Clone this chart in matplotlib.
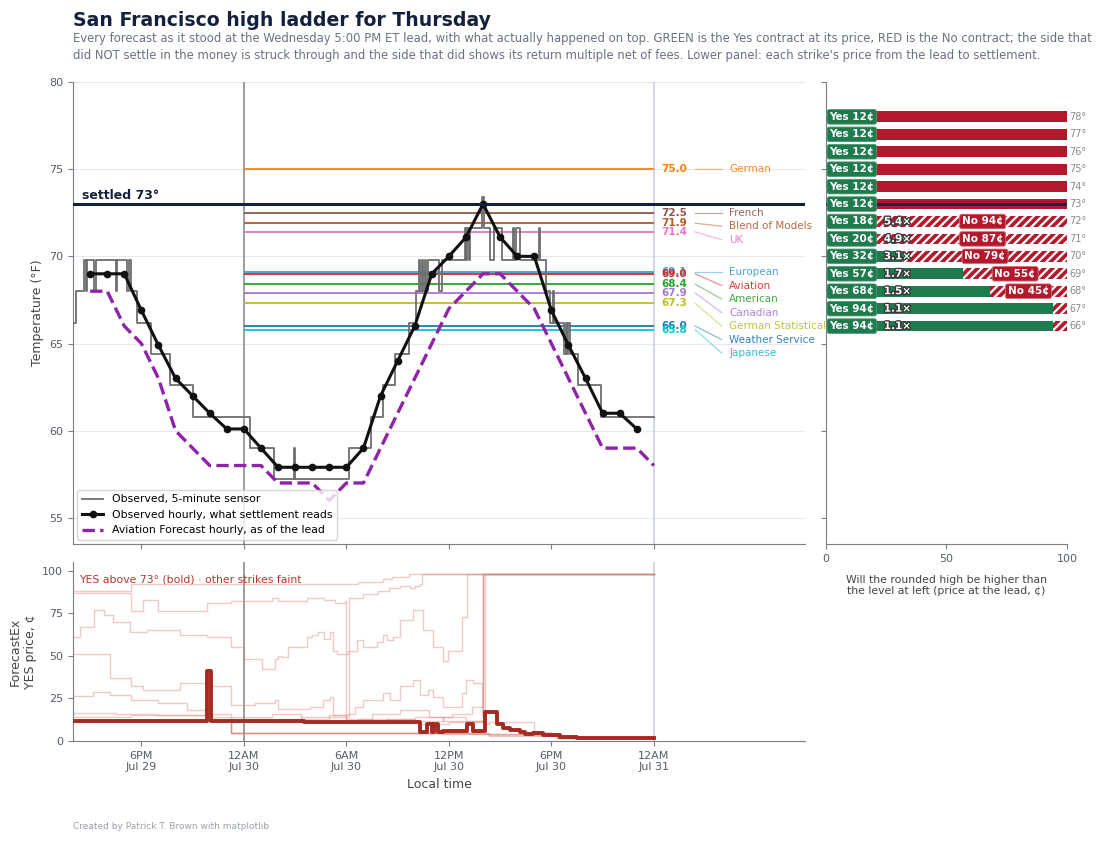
"""
San Francisco high ladder for Thursday: forecasts at the lead, observations,
and the ForecastEx strike ladder.
"""

import matplotlib

matplotlib.use("Agg")
import matplotlib.dates as mdates
import matplotlib.patheffects as pe
import matplotlib.pyplot as plt
import pandas as pd

plt.rcParams["font.family"] = ["DejaVu Sans"]
plt.rcParams["hatch.linewidth"] = 1.6

LEAD = pd.Timestamp("2026-07-29 14:00")
DAY_START = pd.Timestamp("2026-07-30 00:00")
DAY_END = pd.Timestamp("2026-07-31 00:00")
X_END = pd.Timestamp("2026-07-31 08:51")
SETTLED = 73

NAVY = "#14213d"
GREEN = "#1f7a4d"
RED = "#b3192c"
GREY_TXT = "#555c66"

# observed hourly (15:00 Jul 29 .. 23:00 Jul 30), deg F
obs_hourly = [69.0, 69.0, 69.0, 66.9, 64.9, 63.0, 62.0, 61.0, 60.1,
              60.1, 59.0, 57.9, 57.9, 57.9, 57.9, 57.9, 59.0, 62.0, 64.0,
              66.0, 69.0, 70.0, 71.1, 73.0, 71.1, 70.0, 70.0, 66.9, 64.9,
              63.0, 61.0, 61.0, 60.1]

# aviation forecast hourly (15:00 Jul 29 .. 00:00 Jul 31), deg F
aviation_hourly = [68, 68, 66, 65, 63, 60, 59, 58, 58,
                   58, 58, 57, 57, 57, 56, 57, 57, 59, 61, 63, 65, 67,
                   68, 69, 69, 68, 67, 65, 63, 61, 59, 59, 59, 58]

# 5-minute sensor: minutes after the lead where the reading changes, and value
obs5_min = [0, 10, 40, 45, 50, 75, 80, 150, 155, 190, 195, 205,
            225, 275, 340, 420, 620, 705, 775, 780, 970, 1045, 1090,
            1130, 1180, 1205, 1215, 1220, 1225, 1230, 1235, 1240, 1245,
            1285, 1295, 1375, 1380, 1385, 1390, 1395, 1435, 1445, 1465,
            1480, 1505, 1545, 1550, 1555, 1570, 1635, 1640, 1660, 1675,
            1685, 1690, 1725, 1730, 1735, 1740, 1745, 1775, 1855, 2040]
obs5_temp = [66.2, 68.0, 69.8, 68.0, 69.8, 68.0, 69.8, 68.0, 69.8, 68.0, 69.8, 68.0,
             66.2, 64.4, 62.6, 60.8, 59.0, 57.2, 59.0, 57.2, 59.0, 60.8, 62.6,
             64.4, 66.2, 68.0, 69.8, 68.0, 69.8, 68.0, 69.8, 68.0, 69.8,
             68.0, 69.8, 71.6, 69.8, 71.6, 69.8, 71.6, 73.4, 71.6, 69.8,
             71.6, 69.8, 71.6, 69.8, 71.6, 69.8, 71.6, 69.8, 68.0, 66.2,
             68.0, 66.2, 64.4, 66.2, 64.4, 66.2, 64.4, 62.6, 60.8, 60.8]

# model highs at the lead
models = ["German", "French", "Blend of Models", "UK", "European", "Aviation",
          "American", "Canadian", "German Statistical", "Weather Service", "Japanese"]
model_highs = [75.0, 72.5, 71.9, 71.4, 69.1, 69.0, 68.4, 67.9, 67.3, 66.0, 65.8]
model_colors = ["#ff7f0e", "#8c564b", "#b5582b", "#e377c2", "#3a9fd0", "#d62728",
                "#2ca02c", "#a678d0", "#bcbd22", "#1f77b4", "#17becf"]

# ladder at the lead
strikes = [66, 67, 68, 69, 70, 71, 72, 73, 74, 75, 76, 77, 78]
yes_prices = [94, 94, 68, 57, 32, 20, 18, 12, 12, 12, 12, 12, 12]
no_prices = [None, None, 45, 55, 79, 87, 94, None, None, None, None, None, None]
multiples = ["1.1×", "1.1×", "1.5×", "1.7×", "3.1×", "4.9×", "5.4×",
             None, None, None, None, None, None]

# YES price paths (minutes after lead, cents)
price_73 = [(0, 12), (470, 41), (485, 12), (810, 11), (1220, 5), (1242, 10), (1260, 5),
            (1268, 10), (1283, 5), (1300, 6), (1383, 10), (1406, 6), (1447, 17),
            (1490, 10), (1511, 7.5), (1535, 6.5), (1570, 5), (1587, 4), (1617, 4.5),
            (1652, 3.5), (1710, 2.5), (1769, 2), (2040, 2)]
price_66 = [(0, 88), (205, 92), (1000, 93), (1090, 95), (1120, 96), (1180, 98), (2040, 98)]
price_67 = [(0, 87), (205, 76), (246, 83), (299, 76), (470, 81), (556, 82), (700, 84),
            (720, 82), (820, 84), (880, 83), (920, 81), (955, 82), (958, 14), (968, 84),
            (1020, 86), (1070, 88), (1110, 90), (1148, 91), (1183, 90), (1200, 91),
            (1219, 92), (1225, 98), (2040, 98)]
price_68 = [(0, 61), (25, 67), (75, 77), (110, 74), (140, 70), (200, 64), (260, 65),
            (375, 62), (470, 61), (556, 55), (600, 48), (663, 42), (709, 48), (721, 50),
            (735, 49), (756, 55), (821, 61), (840, 62), (862, 64), (880, 60), (903, 64),
            (914, 53), (926, 51), (967, 53), (996, 59), (1020, 55), (1067, 58),
            (1090, 62), (1102, 59), (1125, 61), (1148, 71), (1195, 77), (1230, 65),
            (1265, 55), (1300, 47), (1318, 53), (1365, 73), (1382, 98), (2040, 98)]
price_69 = [(0, 51), (129, 37), (205, 32), (246, 30), (375, 34), (468, 32), (556, 21),
            (640, 22), (709, 24), (721, 19), (832, 20), (879, 24), (903, 26), (914, 15),
            (967, 16), (990, 20), (1020, 24), (1090, 28), (1113, 24), (1148, 32),
            (1195, 36), (1220, 27), (1245, 30), (1265, 26), (1300, 20), (1365, 28),
            (1380, 36), (1405, 34), (1435, 15), (1441, 98), (2040, 98)]
price_70 = [(0, 26.5), (70, 29), (129, 27), (205, 24), (300, 22), (400, 18), (470, 16),
            (556, 14), (700, 16), (800, 13), (900, 15), (960, 13), (1050, 16),
            (1150, 18), (1250, 14), (1330, 16), (1400, 20), (1441, 98), (2040, 98)]
price_71 = [(0, 16.6), (150, 16), (300, 15), (470, 14), (556, 13), (800, 14), (960, 12),
            (1100, 13), (1200, 14), (1300, 12), (1441, 98), (2040, 98)]
price_72 = [(0, 14), (205, 15), (470, 13), (556, 12), (1000, 13), (1200, 12), (1300, 14),
            (1380, 12), (1446, 98), (2040, 98)]
price_74 = [(0, 12), (700, 11), (960, 12), (1100, 11), (1220, 10), (1320, 11), (1440, 10),
            (1460, 11), (1618, 5), (1680, 3), (1750, 2), (2040, 1.5)]
price_75 = [(0, 12), (556, 4.5), (1300, 4), (1620, 3.5), (1700, 2), (2040, 1.5)]
price_76 = [(0, 12), (556, 4.5), (1400, 4), (1700, 2), (2040, 1.5)]
price_77 = [(0, 12), (556, 4.5), (1460, 3.5), (1700, 2), (2040, 1)]
price_78 = [(0, 12), (556, 4.5), (1460, 3), (1700, 1.5), (2040, 1)]

tick_times = ["2026-07-29 18:00", "2026-07-30 00:00", "2026-07-30 06:00",
              "2026-07-30 12:00", "2026-07-30 18:00", "2026-07-31 00:00"]
tick_labels = ["6PM\nJul 29", "12AM\nJul 30", "6AM\nJul 30",
               "12PM\nJul 30", "6PM\nJul 30", "12AM\nJul 31"]


def tnum(ts):
    return mdates.date2num(pd.Timestamp(ts).to_pydatetime())


def after_lead(minutes):
    return [tnum(LEAD + pd.Timedelta(minutes=float(m))) for m in minutes]


def style_axis(a):
    for side in ("top", "right"):
        a.spines[side].set_visible(False)
    for side in ("left", "bottom"):
        a.spines[side].set_color("#7a7f87")
    a.tick_params(colors="#7a7f87", labelcolor=GREY_TXT, labelsize=8)


fig = plt.figure(figsize=(11, 8.43), dpi=100)
ax = fig.add_axes([0.0664, 0.3547, 0.6655, 0.548])
ax_lad = fig.add_axes([0.7509, 0.3547, 0.2191, 0.548])
ax_px = fig.add_axes([0.0664, 0.121, 0.6655, 0.2123])

# ---- main temperature panel ----
style_axis(ax)
ax.set_xlim(tnum(LEAD), tnum(X_END))
ax.set_ylim(53.5, 80)
ax.set_yticks([55, 60, 65, 70, 75, 80])
ax.yaxis.grid(True, color="#e6e9ee", lw=0.8)
ax.set_axisbelow(True)
ax.set_xticks([tnum(t) for t in tick_times])
ax.tick_params(labelbottom=False)
ax.set_ylabel("Temperature (°F)", fontsize=9, color="#444")

ax.axvline(tnum(DAY_START), color="#8c8c8c", lw=1.2, zorder=1)
ax.axvline(tnum(DAY_END), color="#c9d0da", lw=1.2, zorder=1)

hourly_x = after_lead(range(60, 60 * 34, 60))
aviation_x = after_lead(range(60, 60 * 35, 60))

ax.step(after_lead(obs5_min), obs5_temp, where="post", color="#6e6e6e", lw=1.3,
        label="Observed, 5-minute sensor", zorder=3)
ax.plot(hourly_x, obs_hourly, color="#111111", lw=2.2, marker="o", ms=4.5,
        label="Observed hourly, what settlement reads", zorder=5)
ax.plot(aviation_x, aviation_hourly, color="#8e24aa", lw=2.4, ls="--",
        label="Aviation Forecast hourly, as of the lead", zorder=4)

for name, high, col in zip(models, model_highs, model_colors):
    ax.hlines(high, tnum(DAY_START), tnum(DAY_END), color=col, lw=1.3, zorder=2)

ax.axhline(SETTLED, color=NAVY, lw=2.2, zorder=6)
ax.text(tnum(LEAD + pd.Timedelta(minutes=32)), SETTLED + 0.12, f"settled {SETTLED}°",
        fontsize=9, fontweight="bold", color=NAVY, va="bottom", ha="left")

# value labels at the line, names spread out to the right
x_val = tnum(DAY_END + pd.Timedelta(minutes=25))
x_lead0 = tnum(DAY_END + pd.Timedelta(minutes=145))
x_lead1 = tnum(DAY_END + pd.Timedelta(minutes=238))
x_name = tnum(DAY_END + pd.Timedelta(minutes=264))
gap = 0.775
prev = None
for name, high, col in zip(models, model_highs, model_colors):
    y_name = high if prev is None else min(high, prev - gap)
    prev = y_name
    ax.text(x_val, high, f"{high:.1f}", color=col, fontsize=7.5, fontweight="bold",
            va="center", ha="left")
    ax.plot([x_lead0, x_lead1], [high, y_name], color=col, lw=0.9, alpha=0.5,
            clip_on=False)
    ax.text(x_name, y_name, name, color=col, fontsize=7.5, va="center", ha="left",
            alpha=0.9, clip_on=False)

leg = ax.legend(loc="lower left", fontsize=7.8, frameon=True, borderaxespad=0.4,
                handlelength=2.0)
leg.get_frame().set_edgecolor("#cccccc")

# ---- ladder panel ----
style_axis(ax_lad)
ax_lad.set_xlim(0, 100)
ax_lad.set_ylim(53.5, 80)
ax_lad.set_yticks([55, 60, 65, 70, 75, 80])
ax_lad.tick_params(labelleft=False)
ax_lad.set_xticks([0, 50, 100])
ax_lad.set_xlabel("Will the rounded high be higher than\nthe level at left (price at the lead, ¢)",
                  fontsize=7.8, color="#444", labelpad=8)

for s, yes, no, mult in zip(strikes, yes_prices, no_prices, multiples):
    yes_wins = SETTLED > s
    ax_lad.barh(s, yes, left=0, height=0.62, color=GREEN, edgecolor="white", lw=0,
                hatch=None if yes_wins else "////", zorder=2)
    ax_lad.barh(s, 100 - yes, left=yes, height=0.62, color=RED, edgecolor="white", lw=0,
                hatch="////" if yes_wins else None, zorder=2)
    ax_lad.text(1.4, s, f"Yes {yes}¢", color="white", fontsize=7.5, fontweight="bold",
                va="center", ha="left", zorder=6,
                bbox=dict(boxstyle="round,pad=0.22", fc=GREEN, ec="#4d9a72", lw=0.6))
    if mult:
        ax_lad.text(24, s, mult, color="white", fontsize=7.5, fontweight="bold",
                    va="center", ha="left", zorder=6,
                    path_effects=[pe.withStroke(linewidth=2, foreground="#3a3a3a")])
    if no is not None:
        ax_lad.text(max((yes + 100) / 2, 65), s, f"No {no}¢", color="white", fontsize=7.5,
                    fontweight="bold", va="center", ha="center", zorder=6,
                    bbox=dict(boxstyle="round,pad=0.22", fc=RED, ec="#d9707c", lw=0.6))
    ax_lad.text(101, s, f"{s}°", color="#8a8a8a", fontsize=7, va="center", ha="left",
                clip_on=False)

ax_lad.axhline(SETTLED, color=NAVY, lw=2.0, zorder=4)

# ---- price panel ----
style_axis(ax_px)
ax_px.set_xlim(tnum(LEAD), tnum(X_END))
ax_px.set_ylim(0, 105)
ax_px.set_yticks([0, 25, 50, 75, 100])
ax_px.set_xticks([tnum(t) for t in tick_times])
ax_px.set_xticklabels(tick_labels)
ax_px.set_ylabel("ForecastEx\nYES price, ¢", fontsize=9, color="#444")
ax_px.set_xlabel("Local time", fontsize=9, color="#444")
ax_px.axvline(tnum(DAY_START), color="#8c8c8c", lw=1.2, zorder=1)
ax_px.axvline(tnum(DAY_END), color="#c9d0da", lw=1.2, zorder=1)

faint = [price_66, price_67, price_68, price_69, price_70, price_71, price_72,
         price_74, price_75, price_76, price_77, price_78]
for path in faint:
    mins, cents = zip(*path)
    ax_px.step(after_lead(mins), cents, where="post", color="#d9827a", lw=1.0,
               alpha=0.42, zorder=2)
mins, cents = zip(*price_73)
ax_px.step(after_lead(mins), cents, where="post", color="#a52a21", lw=2.8, zorder=3)
ax_px.text(0.008, 0.9, f"YES above {SETTLED}° (bold) · other strikes faint",
           transform=ax_px.transAxes, fontsize=7.8, color="#b3372c", va="center")

# ---- titles ----
fig.text(0.066, 0.976, "San Francisco high ladder for Thursday", fontsize=13.6,
         fontweight="bold", color=NAVY, va="center", ha="left")
fig.text(0.066, 0.9448,
         "Every forecast as it stood at the Wednesday 5:00 PM ET lead, with what actually "
         "happened on top. GREEN is the Yes contract at its price, RED is the No contract; "
         "the side that\ndid NOT settle in the money is struck through and the side that did "
         "shows its return multiple net of fees. Lower panel: each strike's price from the "
         "lead to settlement.",
         fontsize=8.35, color="#6b7280", va="center", ha="left", linespacing=1.4)
fig.text(0.066, 0.02, "Created by Patrick T. Brown with matplotlib", fontsize=6.5,
         color="#9aa0a8", ha="left", va="center")

fig.savefig("out.png", dpi=100)
